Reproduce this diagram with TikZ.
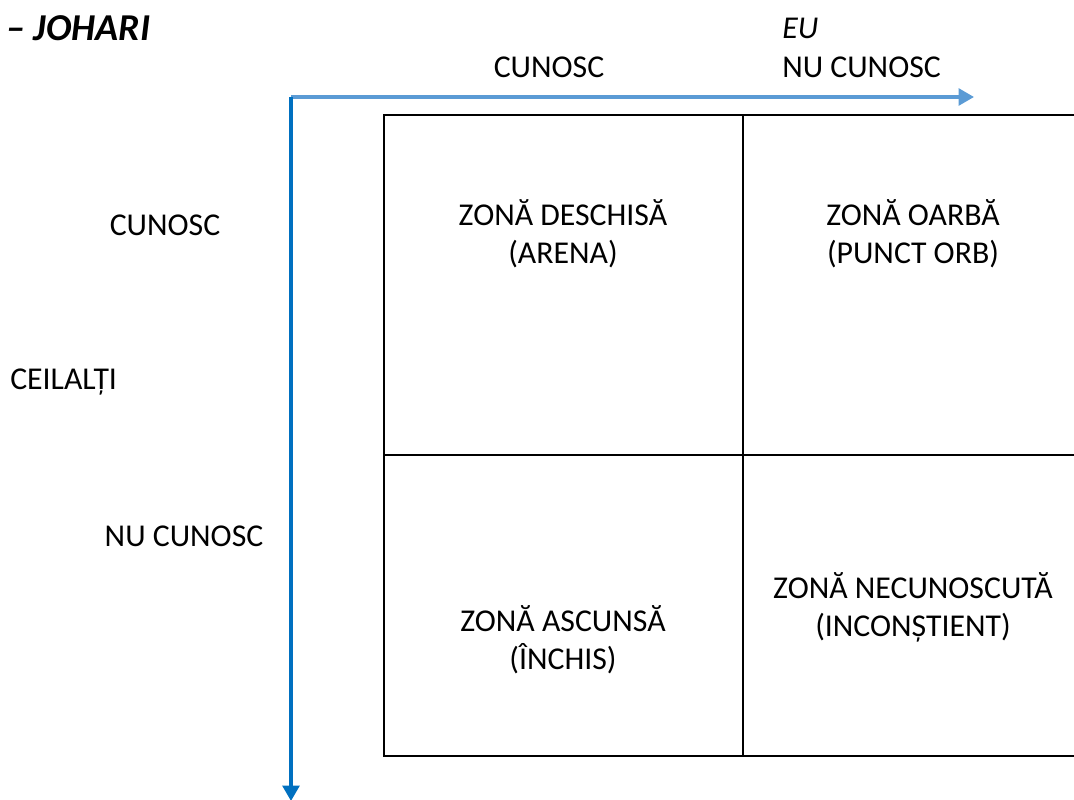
\documentclass[tikz,border=0pt]{standalone}
\usepackage{fontspec}
\setmainfont{Carlito}
\usetikzlibrary{arrows.meta,positioning}
\definecolor{axisblue}{HTML}{0070C0}
\definecolor{lightblue}{HTML}{5B9BD5}
\tikzstyle{label} = [font=\fontsize{22.6}{27}\selectfont, inner sep=0pt]
\tikzstyle{zone} = [label, align=center]
\tikzstyle{grid} = [draw=black, line width=1.7pt]
\tikzstyle{axis} = [line width=2.4pt, -{Triangle[length=11pt,width=12pt]}]

\begin{document}
\begin{tikzpicture}[x=0.025cm,y=-0.025cm]
	\useasboundingbox (0,0) rectangle (1074,800);
	% title and axis labels
	\node [label,anchor=west,font=\fontsize{27}{32}\selectfont\bfseries\itshape] (title) at (6,28) {– JOHARI};
	\node [label,anchor=west,font=\fontsize{22.6}{27}\selectfont\itshape] (eu) at (782,28) {EU};
	\node [label] (cunoscx) at (549,67) {CUNOSC};
	\node [label,anchor=west] (nucunoscx) at (782,67) {NU CUNOSC};
	\node [label] (cunoscy) at (165,225) {CUNOSC};
	\node [label,anchor=west] (ceilalti) at (10,382) {CEILALȚI};
	\node [label] (nucunoscy) at (184,536) {NU CUNOSC};

	% the axes
	\coordinate (origin) at (291,97);
	\coordinate (xend) at (974,97);
	\coordinate (yend) at (291,801);
	\draw [axis,lightblue] (origin) -- (xend);
	\draw [axis,axisblue] (origin) -- (yend);

	% the window
	\coordinate (nw) at (384,115);
	\coordinate (se) at (1090,756);
	\draw [grid] (nw) rectangle (se);
	\draw [grid] (743,115) -- (743,756);
	\draw [grid] (384,455) -- (1090,455);

	% the four zones
	\node [zone] (open) at (563,234) {ZONĂ DESCHISĂ\\(ARENA)};
	\node [zone] (blind) at (913,234) {ZONĂ OARBĂ\\(PUNCT ORB)};
	\node [zone] (hidden) at (563,640) {ZONĂ ASCUNSĂ\\(ÎNCHIS)};
	\node [zone] (unknown) at (913,607) {ZONĂ NECUNOSCUTĂ\\(INCONȘTIENT)};
\end{tikzpicture}
\end{document}
